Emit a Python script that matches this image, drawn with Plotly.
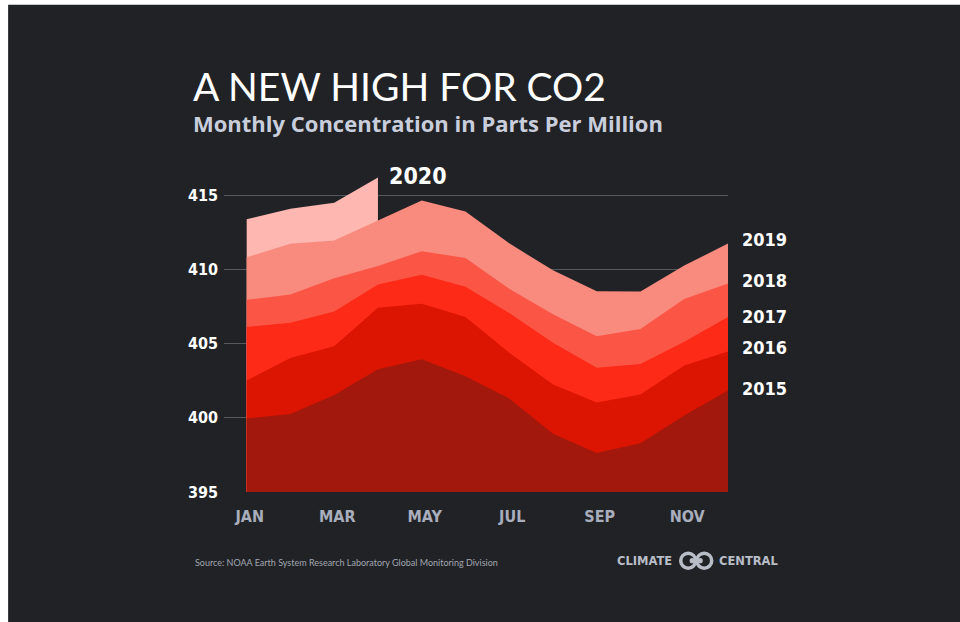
import plotly.graph_objects as go

# Monthly mean CO2 at Mauna Loa (ppm)
months = ["JAN", "FEB", "MAR", "APR", "MAY", "JUN", "JUL", "AUG", "SEP", "OCT", "NOV", "DEC"]
co2_2015 = [399.96, 400.26, 401.54, 403.28, 403.96, 402.80, 401.31, 398.93, 397.63, 398.29, 400.16, 401.85]
co2_2016 = [402.52, 404.04, 404.83, 407.42, 407.70, 406.81, 404.39, 402.25, 401.03, 401.57, 403.53, 404.48]
co2_2017 = [406.13, 406.42, 407.18, 409.00, 409.65, 408.84, 407.07, 405.07, 403.38, 403.64, 405.14, 406.81]
co2_2018 = [407.96, 408.32, 409.41, 410.24, 411.24, 410.79, 408.71, 406.99, 405.51, 406.00, 408.02, 409.07]
co2_2019 = [410.83, 411.75, 411.97, 413.32, 414.66, 413.92, 411.77, 409.95, 408.54, 408.53, 410.27, 411.76]
co2_2020 = [413.40, 414.11, 414.51, 416.21]

years = ["2020", "2019", "2018", "2017", "2016", "2015"]
series = [co2_2020, co2_2019, co2_2018, co2_2017, co2_2016, co2_2015]
colors = ["#FEB7B1", "#F98A7E", "#FB5546", "#FC2A17", "#DB1501", "#A2180D"]

y_ticks = [395, 400, 405, 410, 415]
x_tick_idx = [0, 2, 4, 6, 8, 10]

# Pixel frame of the plotting area
W, H = 960, 622
PL, PR = 224.0, 728.3
PT, PB = 151.2, 492.3


def px(x):
    return (x - PL) / (PR - PL)


def py(y):
    return (PB - y) / (PB - PT)


BG = "#212226"
COND = "DejaVu Sans Condensed, sans-serif"

fig = go.Figure()
for name, vals, col in zip(years, series, colors):
    fig.add_trace(go.Scatter(
        x=list(range(len(vals))), y=vals, name=name,
        mode="lines", line=dict(width=0, color=col),
        fill="tozeroy", fillcolor=col, hoverinfo="skip", showlegend=False,
    ))

annotations = [
    dict(text="A NEW HIGH FOR CO2", x=px(191), y=py(86), xanchor="left", yanchor="middle",
         font=dict(family="Lato, sans-serif", size=39, color="#FFFFFF")),
    dict(text="<b>Monthly Concentration in Parts Per Million</b>", x=px(191), y=py(123),
         xanchor="left", yanchor="middle",
         font=dict(family="Open Sans, sans-serif", size=22, color="#C9CEDC")),
    dict(text="<b>2020</b>", x=px(387), y=py(176), xanchor="left", yanchor="middle",
         font=dict(family=COND, size=23, color="#FFFFFF")),
    dict(text="Source: NOAA Earth System Research Laboratory Global Monitoring Division",
         x=px(193), y=py(563), xanchor="left", yanchor="middle",
         font=dict(family="Lato, sans-serif", size=9, color="#A2A6B0")),
    dict(text="<b>CLIMATE</b>", x=px(674), y=py(561), xanchor="right", yanchor="middle",
         font=dict(family="DejaVu Sans, sans-serif", size=11.5, color="#B9BDC7")),
    dict(text="<b>CENTRAL</b>", x=px(717), y=py(561), xanchor="left", yanchor="middle",
         font=dict(family="DejaVu Sans, sans-serif", size=11.5, color="#B9BDC7")),
]
label_y = {"2019": 240, "2018": 281, "2017": 317, "2016": 348, "2015": 389}
for yr, yy in label_y.items():
    annotations.append(dict(text="<b>" + yr + "</b>", x=px(740), y=py(yy), xanchor="left",
                            yanchor="middle", font=dict(family=COND, size=18, color="#FFFFFF")))
for a in annotations:
    a.update(xref="paper", yref="paper", showarrow=False)

shapes = [
    dict(type="rect", xref="paper", yref="paper", x0=px(8), x1=px(W + 5), y0=py(H + 5), y1=py(5),
         fillcolor=BG, line=dict(width=0), layer="below"),
]
# Logo rings
for cx in (688.5, 704.5):
    shapes.append(dict(type="circle", xref="paper", yref="paper",
                       x0=px(cx - 7.5), x1=px(cx + 7.5), y0=py(561 + 7.5), y1=py(561 - 7.5),
                       line=dict(color="#B9BDC7", width=3.5), fillcolor="rgba(0,0,0,0)", layer="above"))
for cx in (692.5, 700.5):
    shapes.append(dict(type="circle", xref="paper", yref="paper",
                       x0=px(cx - 2.6), x1=px(cx + 2.6), y0=py(561 + 2.6), y1=py(561 - 2.6),
                       line=dict(width=0), fillcolor="#B9BDC7", layer="above"))

fig.update_layout(
    width=W, height=H,
    margin=dict(l=PL, r=W - PR, t=PT, b=H - PB, pad=0),
    paper_bgcolor="#FFFFFF", plot_bgcolor="rgba(0,0,0,0)",
    annotations=annotations, shapes=shapes,
    xaxis=dict(
        range=[-(246.7 - PL) / ((PR - 246.7) / 11), 11],
        tickvals=x_tick_idx, ticktext=[months[i] for i in x_tick_idx],
        showgrid=False, zeroline=False, showline=False, ticks="",
        tickfont=dict(family=COND, size=16, color="#A9AEBC", weight="bold"),
        ticklabelstandoff=13, ticklabelshift=3, fixedrange=True,
    ),
    yaxis=dict(
        range=[395, 418], tickvals=y_ticks, ticktext=[str(v) for v in y_ticks],
        showgrid=True, gridcolor="#56585D", gridwidth=1,
        zeroline=False, showline=False, ticks="",
        tickfont=dict(family=COND, size=16, color="#FFFFFF", weight="bold"),
        ticklabelstandoff=5, fixedrange=True,
    ),
)

fig.write_html("out.html")
